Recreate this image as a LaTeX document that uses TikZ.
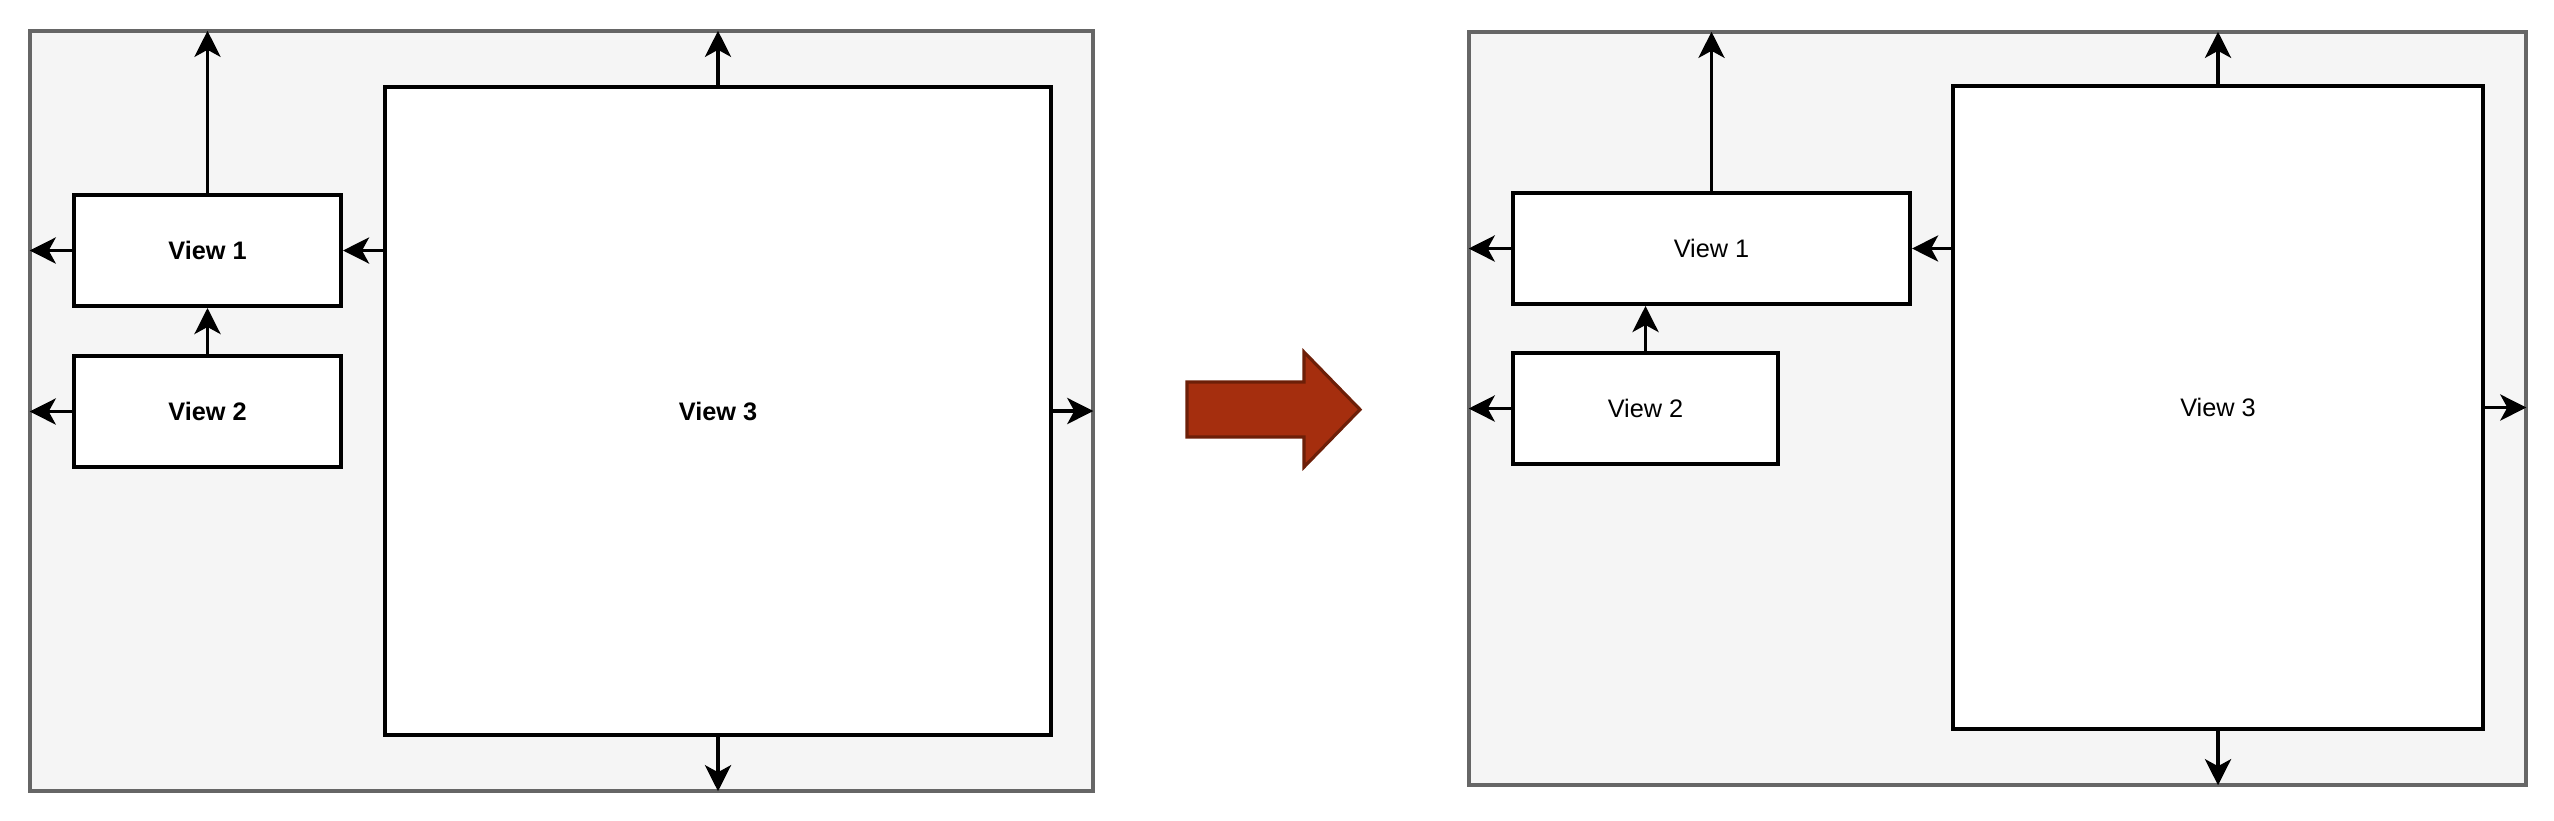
\documentclass[tikz,border=0pt]{standalone}
\usepackage{fontspec}
\setmainfont{Liberation Sans}
\usepackage{xcolor}
\usepackage{tikz}
\usetikzlibrary{positioning,arrows.meta,calc}
\definecolor{framefill}{HTML}{F5F5F5}
\definecolor{framedraw}{HTML}{666666}
\definecolor{bigfill}{HTML}{A52E0E}
\definecolor{bigdraw}{HTML}{6D1F08}

\begin{document}
\begin{tikzpicture}[x=0.01cm,y=-0.01cm,
    frame/.style={rectangle,draw=framedraw,fill=framefill,line width=1.1pt,outer sep=0pt},
    view/.style={rectangle,draw,fill=white,line width=1.1pt,inner sep=0pt,
                 font=\fontsize{7.2}{8.6}\selectfont},
    arrow/.style={-{Stealth[length=0.26cm,width=0.26cm,inset=0.07cm]},line width=1.1pt}
]
\useasboundingbox (0,0) rectangle (2554,820);

% before
\node[frame,minimum width=10.63cm,minimum height=7.60cm] (oldframe) at (561.5,411) {};
\node[view,minimum width=2.67cm,minimum height=1.11cm] (old1) at (207.5,250.5) {\textbf{View 1}};
\node[view,minimum width=2.67cm,minimum height=1.11cm] (old2) at (207.5,411.5) {\textbf{View 2}};
\node[view,minimum width=6.66cm,minimum height=6.48cm] (old3) at (718,411)     {\textbf{View 3}};

\draw[arrow] (old1.north) -- (old1.north |- oldframe.north);
\draw[arrow] (old1.west)  -- (old1.west -| oldframe.west);
\draw[arrow] (old2.west)  -- (old2.west -| oldframe.west);
\draw[arrow] (old2.north) -- (old1.south);
\draw[arrow] (old1.east -| old3.west) -- (old1.east);
\draw[arrow] (old3.north) -- (old3.north |- oldframe.north);
\draw[arrow] (old3.south) -- (old3.south |- oldframe.south);
\draw[arrow] (old3.east)  -- (old3.east -| oldframe.east);

% big arrow
\draw[fill=bigfill,draw=bigdraw,line width=0.9pt]
    (1187,382) -- (1304,382) -- (1304,352) -- (1360,409.5)
    -- (1304,467) -- (1304,437) -- (1187,437) -- cycle;

% after
\node[frame,minimum width=10.57cm,minimum height=7.53cm] (newframe) at (1997.5,408.5) {};
\node[view,minimum width=3.97cm,minimum height=1.11cm] (new1) at (1711.5,248.5) {View 1};
\node[view,minimum width=2.65cm,minimum height=1.11cm] (new2) at (1645.5,408.5) {View 2};
\node[view,minimum width=5.30cm,minimum height=6.43cm] (new3) at (2218,407.5)   {View 3};

\draw[arrow] (new1.north) -- (new1.north |- newframe.north);
\draw[arrow] (new1.west)  -- (new1.west -| newframe.west);
\draw[arrow] (new2.west)  -- (new2.west -| newframe.west);
\draw[arrow] (new2.north) -- (new2.north |- new1.south);
\draw[arrow] (new1.east -| new3.west) -- (new1.east);
\draw[arrow] (new3.north) -- (new3.north |- newframe.north);
\draw[arrow] (new3.south) -- (new3.south |- newframe.south);
\draw[arrow] (new3.east)  -- (new3.east -| newframe.east);
\end{tikzpicture}
\end{document}
